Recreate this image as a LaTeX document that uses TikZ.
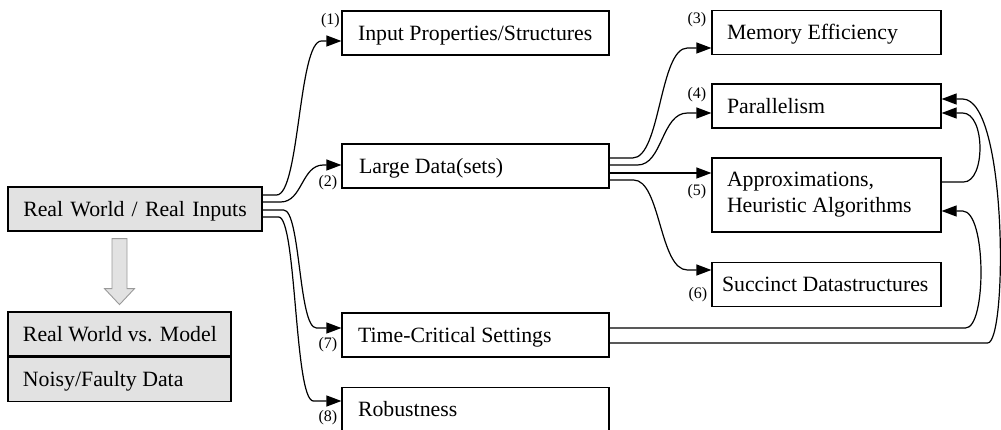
\documentclass[tikz,border=0pt]{standalone}
\usepackage{fontspec}
\setmainfont{Liberation Serif}
\usetikzlibrary{arrows.meta,calc}
\definecolor{boxgray}{HTML}{E2E2E2}
\definecolor{arrowline}{HTML}{9A9A9A}
\tikzset{
  every node/.style={font=\fontsize{21.8}{26}\selectfont},
  box/.style={draw, line width=1.2pt, inner xsep=0pt, inner ysep=0pt, align=flush left,
              minimum height=44pt, text height=15.6pt, text depth=1.2pt},
  lbox/.style={box, text width=267pt},
  rbox/.style={box, text width=229pt},
  gbox/.style={box, fill=boxgray},
  lbl/.style={font=\fontsize{16}{18}\selectfont, inner sep=0pt, anchor=east},
  conn/.style={line width=1.2pt, -{Triangle[length=15pt,width=11pt]}},
  plain/.style={line width=1.2pt}
}
\begin{document}
\begin{tikzpicture}[x=1pt,y=-1pt]
\useasboundingbox (0,0) rectangle (1001,430);
% left column
\node[gbox, text width=254pt, align=center] (rw) at (135,209) {Real World / Real Inputs};
\node[gbox, text width=223pt] (rm) at (119.5,334) {\hspace*{15pt}Real World vs. Model};
\node[gbox, text width=223pt, anchor=north] (nf) at (rm.south) {\hspace*{15pt}Noisy/Faulty Data};
% middle column
\node[lbox] (ip) at (475.5,33) {\hspace*{16pt}Input Properties/Structures};
\node[lbox] (ld) at (475.5,166) {\hspace*{17pt}Large Data(sets)};
\node[lbox] (tc) at (475.5,335) {\hspace*{16pt}Time-Critical Settings};
\node[lbox] (rb) at (475.5,409.5) {\hspace*{16pt}Robustness};
% right column
\node[rbox] (me) at (826.5,32.5) {\hspace*{15pt}Memory Efficiency};
\node[rbox] (pa) at (826.5,106) {\hspace*{15pt}Parallelism};
\node[rbox, minimum height=74pt, text height=, text depth=] (ap) at (826.5,195) {\hspace*{15pt}Approximations,\\\hspace*{15pt}Heuristic Algorithms};
\node[rbox] (sd) at (826.5,284.5) {\hspace*{10pt}Succinct Datastructures};
% labels
\node[lbl] (l1) at ($(ip.west)+(-1.5,-12)$) {(1)};
\node[lbl] (l2) at ($(ld.west)+(-4,17)$) {(2)};
\node[lbl] (l3) at ($(me.west)+(-5,-12.5)$) {(3)};
\node[lbl] (l4) at ($(pa.west)+(-5,-11)$) {(4)};
\node[lbl] (l5) at ($(ap.west)+(-5,-3)$) {(5)};
\node[lbl] (l6) at ($(sd.west)+(-4,10.5)$) {(6)};
\node[lbl] (l7) at ($(tc.west)+(-4,10)$) {(7)};
\node[lbl] (l8) at ($(rb.west)+(-4,8.5)$) {(8)};
% gray arrow
\coordinate (ga) at ($(rw.south)+(-15.5,7)$);
\filldraw[fill=boxgray, draw=arrowline, line width=0.9pt]
  (ga) ++(-7.5,0) -- ++(15,0) -- ++(0,50) -- ++(7.5,0) -- ++(-15,16) -- ++(-15,-16) -- ++(7.5,0) -- cycle;
% connectors from Real World
\draw[conn] ($(rw.east)+(0,-14)$) -- ++(14,0) .. controls ++(23,0) and ($(ip.west)+(-43,8)$) .. ($(ip.west)+(-20,8)$) -- ($(ip.west)+(0,8)$);
\draw[conn] ($(rw.east)+(0,-7)$) -- ++(18,0) .. controls ++(22,0) and ($(ld.west)+(-40,-1)$) .. ($(ld.west)+(-18,-1)$) -- ($(ld.west)+(0,-1)$);
\draw[conn] ($(rw.east)+(0,1)$) -- ++(21,0) .. controls ++(17,0) and ($(tc.west)+(-43,-7)$) .. ($(tc.west)+(-25,-7)$) -- ($(tc.west)+(0,-7)$);
\draw[conn] ($(rw.east)+(0,8)$) -- ++(16,0) .. controls ++(18,0) and ($(rb.west)+(-47,-8.5)$) .. ($(rb.west)+(-28,-8.5)$) -- ($(rb.west)+(0,-8.5)$);
% connectors from Large Data
\draw[conn] ($(ld.east)+(0,-8)$) -- ++(23,0) .. controls ++(28,0) and ($(me.west)+(-52,15.5)$) .. ($(me.west)+(-24,15.5)$) -- ($(me.west)+(0,15.5)$);
\draw[conn] ($(ld.east)+(0,-1)$) -- ++(28,0) .. controls ++(25,0) and ($(pa.west)+(-50,7)$) .. ($(pa.west)+(-24,7)$) -- ($(pa.west)+(0,7)$);
\draw[conn] ($(ld.east)+(0,7)$) -- ($(ap.west)+(0,-22)$);
\draw[conn] ($(ld.east)+(0,14)$) -- ++(24,0) .. controls ++(27,0) and ($(sd.west)+(-52,-14.5)$) .. ($(sd.west)+(-24,-14.5)$) -- ($(sd.west)+(0,-14.5)$);
% feedback connectors
\draw[conn] ($(ap.east)+(0,-13)$) -- ++(22,0) .. controls ++(22,0) and ($(pa.east)+(44,7)$) .. ($(pa.east)+(21,7)$) -- ($(pa.east)+(0,7)$);
\draw[conn] ($(tc.east)+(0,-7)$) -- ($(ap.east)+(24,133)$) .. controls ++(21,0) and ($(ap.east)+(45,16)$) .. ($(ap.east)+(21,16)$) -- ($(ap.east)+(0,16)$);
\draw[conn] ($(tc.east)+(0,8)$) -- ($(pa.east)+(46,237)$) .. controls ++(20,0) and ($(pa.east)+(66,-7)$) .. ($(pa.east)+(21,-7)$) -- ($(pa.east)+(0,-7)$);
\end{tikzpicture}
\end{document}
